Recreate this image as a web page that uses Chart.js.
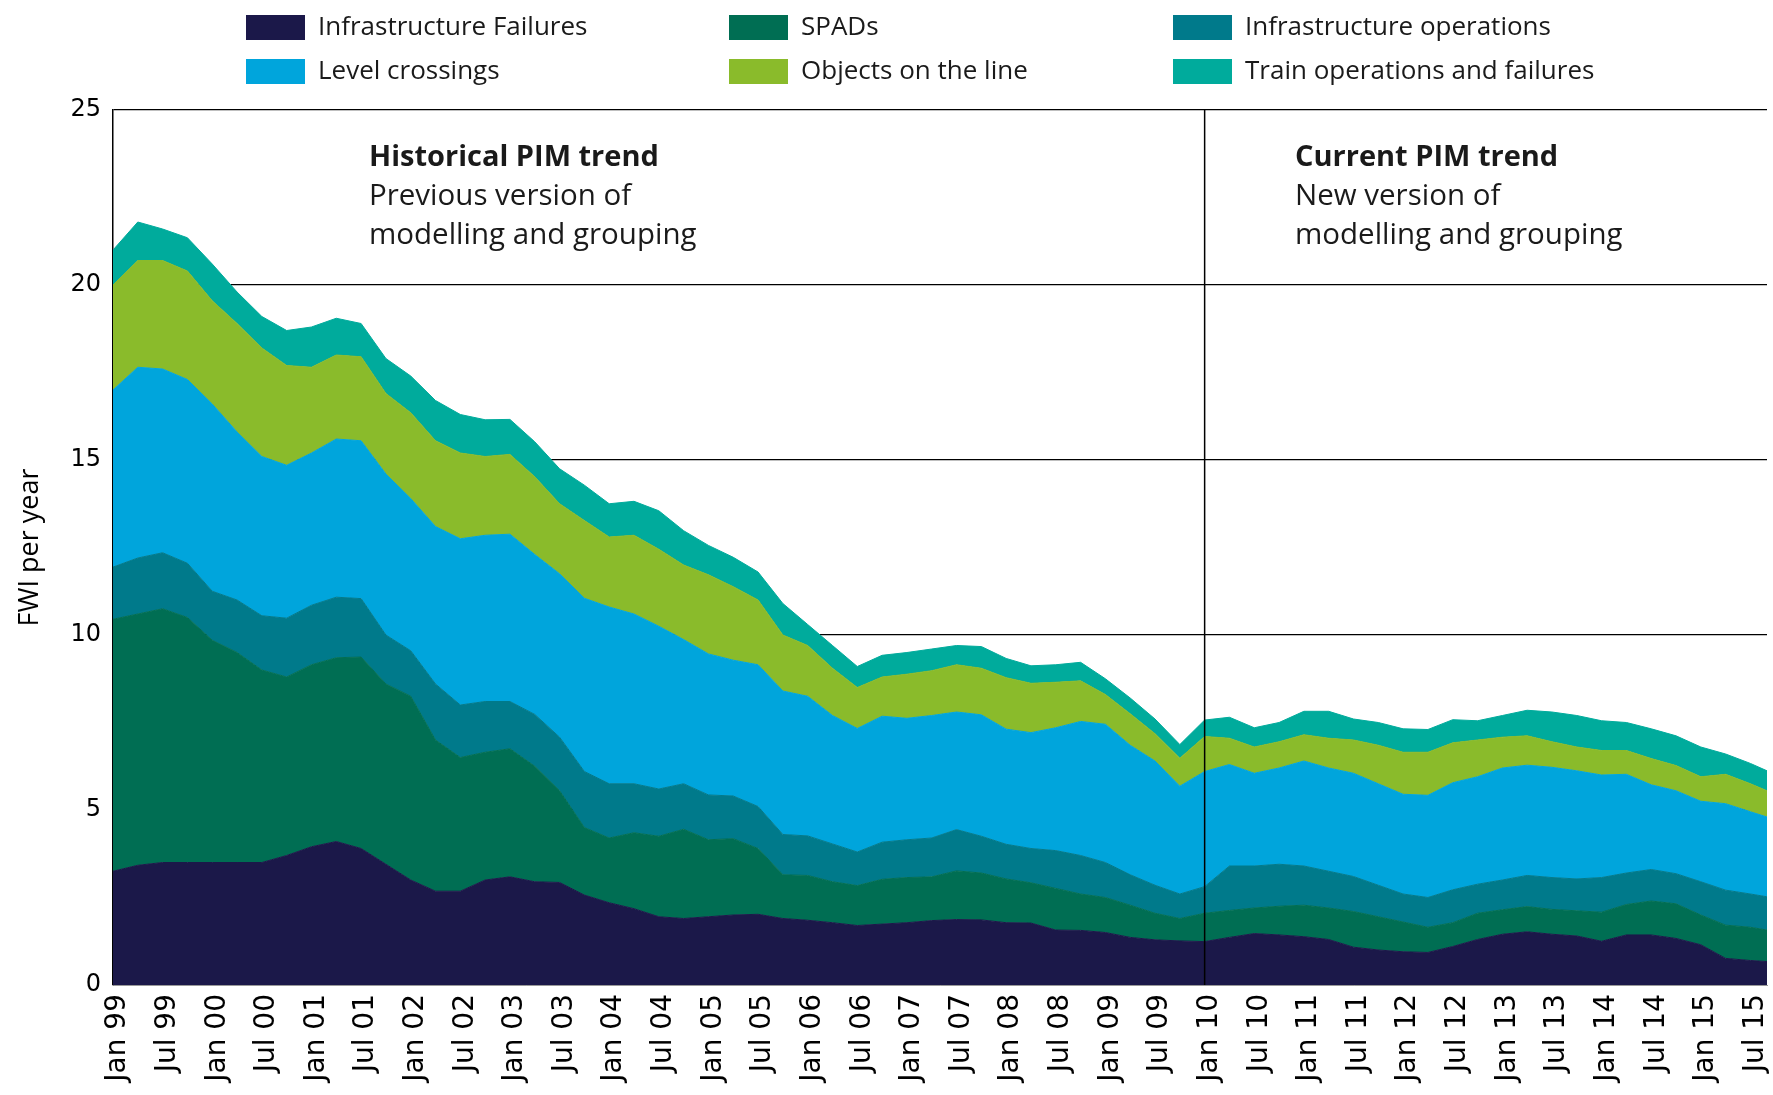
<!DOCTYPE html>
<html lang="en">
<head>
  <meta charset="UTF-8" />
  <title>FWI per year by hazard group</title>
  <script src="https://cdn.jsdelivr.net/npm/chart.js@4.4.1/dist/chart.umd.min.js"></script>
  <style>
    html, body { margin: 0; padding: 0; background: #fff; }
    #wrap { position: relative; width: 1773px; height: 1095px; }
  </style>
</head>
<body>
  <div id="wrap"><canvas id="fwiChart" width="1773" height="1095"></canvas></div>

  <script>
    // months since Jan 1999 (sampled quarterly, last point is the end of the series)
    const months = [0,3,6,9,12,15,18,21,24,27,30,33,36,39,42,45,48,51,54,57,60,63,66,69,
      72,75,78,81,84,87,90,93,96,99,102,105,108,111,114,117,120,123,126,129,
      132,135,138,141,144,147,150,153,156,159,162,165,168,171,174,177,180,183,186,189,
      192,195,198,200];

    const tickMonths = [0,6,12,18,24,30,36,42,48,54,60,66,72,78,84,90,96,102,108,114,
      120,126,132,138,144,150,156,162,168,174,180,186,192,198];
    const tickLabels = ['Jan 99','Jul 99','Jan 00','Jul 00','Jan 01','Jul 01','Jan 02','Jul 02',
      'Jan 03','Jul 03','Jan 04','Jul 04','Jan 05','Jul 05','Jan 06','Jul 06','Jan 07','Jul 07',
      'Jan 08','Jul 08','Jan 09','Jul 09','Jan 10','Jul 10','Jan 11','Jul 11','Jan 12','Jul 12',
      'Jan 13','Jul 13','Jan 14','Jul 14','Jan 15','Jul 15'];

    const infraFailures = [3.25,3.42,3.5,3.5,3.5,3.5,3.5,3.7,3.95,4.1,3.9,3.45,3.0,2.68,2.68,3.0,
      3.09,2.95,2.93,2.57,2.35,2.18,1.95,1.9,1.95,2.0,2.02,1.9,1.85,1.78,1.7,1.74,1.78,1.84,1.87,
      1.86,1.78,1.77,1.57,1.56,1.5,1.36,1.29,1.26,1.24,1.36,1.47,1.43,1.38,1.3,1.08,1.0,0.95,0.93,
      1.1,1.3,1.45,1.52,1.45,1.4,1.25,1.43,1.43,1.33,1.15,0.76,0.7,0.67];
    const spads = [7.2,7.18,7.25,7.0,6.35,6.0,5.5,5.1,5.2,5.25,5.47,5.15,5.25,4.32,3.82,3.65,
      3.66,3.3,2.62,1.93,1.85,2.17,2.3,2.55,2.2,2.18,1.88,1.25,1.28,1.17,1.14,1.28,1.29,1.25,1.39,
      1.34,1.25,1.15,1.19,1.04,1.0,0.92,0.76,0.64,0.81,0.77,0.73,0.82,0.9,0.9,1.02,0.95,0.85,0.72,
      0.68,0.75,0.7,0.72,0.71,0.72,0.83,0.87,0.97,0.99,0.85,0.95,0.95,0.9];
    const infraOperations = [1.49,1.6,1.6,1.55,1.4,1.5,1.55,1.68,1.7,1.73,1.67,1.4,1.3,1.6,1.5,1.45,
      1.35,1.48,1.53,1.6,1.55,1.4,1.35,1.3,1.28,1.22,1.2,1.15,1.13,1.08,0.96,1.06,1.08,1.11,1.18,
      1.05,0.99,0.98,1.08,1.1,1.0,0.87,0.8,0.7,0.76,1.27,1.2,1.2,1.12,1.05,1.0,0.9,0.8,0.85,
      0.94,0.83,0.85,0.89,0.91,0.91,0.99,0.9,0.9,0.86,0.95,1.0,0.95,0.95];
    const levelCrossings = [5.06,5.45,5.25,5.25,5.35,4.8,4.55,4.37,4.35,4.52,4.51,4.6,4.35,4.5,4.75,4.75,
      4.78,4.57,4.67,4.95,5.05,4.85,4.65,4.12,4.03,3.88,4.05,4.1,3.99,3.67,3.53,3.6,3.47,3.5,3.36,
      3.47,3.29,3.31,3.51,3.83,3.95,3.7,3.55,3.08,3.29,2.9,2.65,2.75,3.0,2.95,2.95,2.9,2.85,2.92,
      3.06,3.07,3.2,3.15,3.15,3.09,2.93,2.82,2.42,2.37,2.3,2.47,2.35,2.28];
    const objectsOnLine = [3.0,3.05,3.1,3.1,2.95,3.1,3.1,2.85,2.45,2.4,2.4,2.3,2.45,2.45,2.45,2.25,
      2.28,2.22,2.0,2.22,2.0,2.25,2.2,2.13,2.26,2.1,1.85,1.6,1.45,1.35,1.17,1.12,1.26,1.28,1.35,
      1.33,1.47,1.41,1.3,1.16,0.85,0.9,0.78,0.8,1.0,0.75,0.75,0.75,0.75,0.85,0.95,1.1,1.2,1.23,
      1.14,1.05,0.88,0.84,0.73,0.68,0.7,0.68,0.75,0.72,0.7,0.84,0.8,0.75];
    const trainOperations = [1.0,1.1,0.9,0.95,1.05,0.9,0.9,1.0,1.15,1.05,0.95,1.0,1.05,1.15,1.1,1.05,
      1.0,1.0,1.0,1.01,0.95,0.97,1.1,0.98,0.84,0.84,0.8,0.9,0.6,0.65,0.6,0.62,0.62,0.62,0.55,
      0.62,0.55,0.5,0.5,0.53,0.45,0.45,0.42,0.39,0.47,0.6,0.55,0.55,0.67,0.77,0.6,0.65,0.67,0.65,
      0.66,0.55,0.62,0.73,0.85,0.9,0.85,0.8,0.85,0.85,0.85,0.58,0.58,0.57];

    const seriesNames = ['Infrastructure Failures', 'SPADs', 'Infrastructure operations',
      'Level crossings', 'Objects on the line', 'Train operations and failures'];
    const seriesValues = [infraFailures, spads, infraOperations, levelCrossings, objectsOnLine, trainOperations];
    const seriesColors = ['#1b1849', '#006e53', '#007a8b', '#00a5dc', '#8abb2b', '#00ab9c'];

    const modelChangeMonth = 132; // Jan 10, new PIM version
    const notes = [
      { x: 369, lines: ['Historical PIM trend', 'Previous version of', 'modelling and grouping'] },
      { x: 1295, lines: ['Current PIM trend', 'New version of', 'modelling and grouping'] }
    ];

    const textFont = '"Open Sans", "Noto Sans", sans-serif';

    // legend across the top, two rows of three
    const topLegend = {
      id: 'topLegend',
      afterDraw(chart) {
        const ctx = chart.ctx;
        const cols = [246, 729, 1173];
        const rows = [27, 71];
        ctx.save();
        ctx.font = '26px ' + textFont;
        ctx.textBaseline = 'middle';
        chart.data.datasets.forEach((ds, i) => {
          const x = cols[i % 3], y = rows[Math.floor(i / 3)];
          ctx.fillStyle = ds.backgroundColor;
          ctx.fillRect(x, y - 12, 59, 25);
          ctx.fillStyle = '#1a1a1a';
          ctx.fillText(ds.label, x + 72, y + 1);
        });
        ctx.restore();
      }
    };

    // divider at the model change plus the two trend notes
    const trendNotes = {
      id: 'trendNotes',
      afterDraw(chart) {
        const ctx = chart.ctx;
        const area = chart.chartArea;
        const xPix = chart.scales.x.getPixelForValue(modelChangeMonth);
        ctx.save();
        ctx.strokeStyle = '#000';
        ctx.lineWidth = 1.5;
        ctx.beginPath();
        ctx.moveTo(xPix, area.top);
        ctx.lineTo(xPix, area.bottom);
        ctx.stroke();

        ctx.fillStyle = '#1a1a1a';
        ctx.textBaseline = 'middle';
        notes.forEach(n => {
          n.lines.forEach((line, j) => {
            ctx.font = (j === 0 ? 'bold 29px ' : '29.5px ') + textFont;
            ctx.fillText(line, n.x, 158 + j * 39);
          });
        });
        ctx.restore();
      }
    };

    const datasets = seriesNames.map((name, i) => ({
      label: name,
      data: months.map((m, k) => ({ x: m, y: seriesValues[i][k] })),
      backgroundColor: seriesColors[i],
      borderColor: seriesColors[i],
      borderWidth: 1,
      pointRadius: 0,
      tension: 0,
      fill: i === 0 ? 'origin' : '-1'
    }));

    Chart.defaults.font.family = '"DejaVu Sans", sans-serif';
    Chart.defaults.color = '#000';

    new Chart(document.getElementById('fwiChart'), {
      type: 'line',
      data: { datasets },
      options: {
        responsive: false,
        animation: false,
        layout: { padding: { top: 110, right: 6, left: 0, bottom: 0 } },
        plugins: {
          legend: { display: false },
          tooltip: { enabled: false }
        },
        scales: {
          x: {
            type: 'linear',
            min: 0,
            max: 200,
            grid: { display: false, drawTicks: false },
            border: { display: true, color: '#999', width: 1 },
            afterBuildTicks: axis => { axis.ticks = tickMonths.map(v => ({ value: v })); },
            afterFit: axis => { axis.height = 110; axis.paddingLeft = 0; axis.paddingRight = 0; },
            ticks: {
              autoSkip: false,
              minRotation: 90,
              maxRotation: 90,
              padding: 9,
              labelOffset: 5,
              font: { size: 28 },
              callback: (value, index) => tickLabels[index]
            }
          },
          y: {
            stacked: true,
            min: 0,
            max: 25,
            z: 1,
            grid: { color: '#000', lineWidth: 1.3, drawTicks: false },
            border: { display: true, color: '#000', width: 1.5 },
            afterFit: axis => { axis.width = 113; },
            ticks: { stepSize: 5, padding: 12, font: { size: 24 } },
            title: {
              display: true,
              text: 'FWI per year',
              font: { family: textFont, size: 27 },
              padding: { top: 14, bottom: 0 }
            }
          }
        }
      },
      plugins: [topLegend, trendNotes]
    });
  </script>
</body>
</html>
